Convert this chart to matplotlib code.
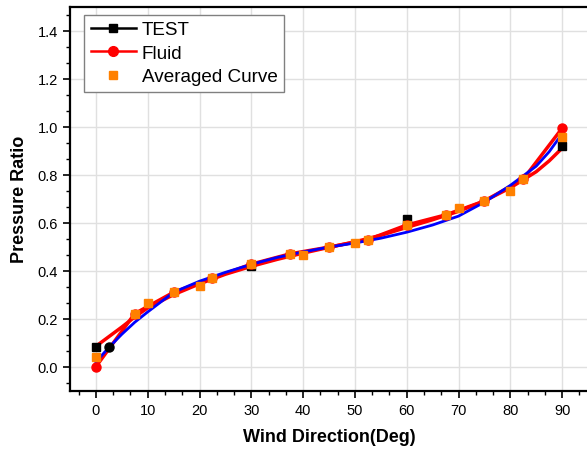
import numpy as np
import matplotlib
matplotlib.use("Agg")
import matplotlib.pyplot as plt
from matplotlib.lines import Line2D
from matplotlib.ticker import MultipleLocator, AutoMinorLocator

plt.rcParams['font.family'] = ['Liberation Sans', 'DejaVu Sans']

# TEST measurements
test_x = [0, 30, 60, 90]
test_y = [0.08, 0.42, 0.614, 0.92]
# extra black circle point near 0
dot_x = [2.5]
dot_y = [0.083]

# Fluid results
fluid_x = [0, 7.5, 15, 22.5, 30, 37.5, 45, 52.5, 60, 67.5, 75, 82.5, 90]
fluid_y = [0.0, 0.221, 0.31, 0.369, 0.427, 0.47, 0.498, 0.529, 0.59, 0.632, 0.69, 0.781, 0.993]

# averaged curve
avg_x = [0, 7.5, 10, 15, 20, 22.5, 30, 37.5, 40, 45, 50, 52.5, 60, 67.5, 70, 75, 80, 82.5, 90]
avg_y = [0.04, 0.221, 0.266, 0.31, 0.335, 0.369, 0.428, 0.471, 0.465, 0.498, 0.515, 0.529,
         0.592, 0.631, 0.661, 0.69, 0.731, 0.781, 0.958]

# smooth curves (read every 5 deg)
curve_x = [0, 2.5, 5, 7.5, 10, 15, 20, 25, 30, 35, 40, 45, 50, 55, 60, 65, 70, 75, 80, 85, 87.5, 90]
red_fit = [0.085, 0.125, 0.165, 0.207, 0.245, 0.30, 0.345, 0.385, 0.418, 0.447, 0.473, 0.497,
           0.52, 0.547, 0.58, 0.612, 0.647, 0.69, 0.745, 0.812, 0.857, 0.91]
blue_fit = [0.02, 0.08, 0.135, 0.185, 0.228, 0.31, 0.356, 0.393, 0.426, 0.455, 0.478, 0.498,
            0.515, 0.535, 0.56, 0.59, 0.627, 0.685, 0.755, 0.835, 0.895, 0.97]

fig = plt.figure(figsize=(5.87, 4.52), dpi=100)
ax = fig.add_axes([70 / 587, 1 - 391.7 / 452, 518 / 587, 384.2 / 452])

ax.plot(curve_x, red_fit, color='#ff0000', lw=2.5, zorder=3)
ax.plot(fluid_x, fluid_y, color='#ff0000', lw=2.5, zorder=3)
ax.plot(curve_x, blue_fit, color='#0000ff', lw=2.0, zorder=4)
ax.plot(test_x, test_y, ls='none', marker='s', color='black', ms=5.5, zorder=5)
ax.plot(dot_x, dot_y, ls='none', marker='o', color='black', ms=6.5, zorder=5)
ax.plot(fluid_x, fluid_y, ls='none', marker='o', color='#ff0000', ms=6.5, zorder=5)
ax.plot(avg_x, avg_y, ls='none', marker='s', color='#ff8000', ms=5.5, zorder=6)

ax.set_xlim(-5, 95)
ax.set_ylim(-0.1, 1.5)
ax.xaxis.set_major_locator(MultipleLocator(10))
ax.xaxis.set_minor_locator(AutoMinorLocator(3))
ax.yaxis.set_major_locator(MultipleLocator(0.2))
ax.yaxis.set_minor_locator(AutoMinorLocator(3))
ax.yaxis.set_major_formatter(plt.FormatStrFormatter('%.1f'))
ax.tick_params(which='major', direction='out', length=5, width=1.2, labelsize=10.5)
ax.tick_params(which='minor', direction='out', length=3, width=1.0)
ax.tick_params(top=False, right=False)
ax.grid(True, which='major', color='#e0e0e0', lw=1.0)
ax.set_axisbelow(True)
for s in ax.spines.values():
    s.set_linewidth(1.6)

ax.set_xlabel('Wind Direction(Deg)', fontsize=13, fontweight='bold', labelpad=8)
ax.set_ylabel('Pressure Ratio', fontsize=13, fontweight='bold', labelpad=7)

handles = [
    Line2D([], [], color='black', marker='s', lw=1.8, ms=6),
    Line2D([], [], color='#ff0000', marker='o', lw=1.8, ms=7),
    Line2D([], [], color='#ff8000', marker='s', ls='none', ms=6),
]
leg = ax.legend(handles, ['TEST', 'Fluid', 'Averaged Curve'], loc='upper left',
                bbox_to_anchor=(0.027, 0.979), fontsize=13.6, fancybox=False,
                edgecolor='#808080', framealpha=1, borderaxespad=0,
                handlelength=2.4, handletextpad=0.3, labelspacing=0.33,
                borderpad=0.35)
leg.get_frame().set_linewidth(1.0)

fig.savefig('out.png', dpi=100)
